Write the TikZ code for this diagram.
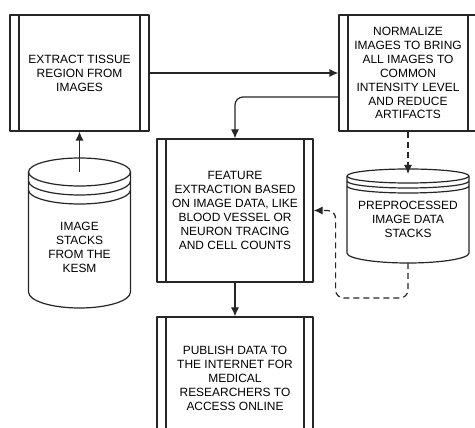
\documentclass[tikz,border=0pt]{standalone}
\usepackage{fontspec}
\setmainfont{Liberation Sans}
\usetikzlibrary{arrows.meta}
\tikzset{
  procbox/.style={draw,align=center,inner sep=0pt,fill=white,
    path picture={
      \draw ([xshift=9bp]path picture bounding box.north west) -- ([xshift=9bp]path picture bounding box.south west);
      \draw ([xshift=-9bp]path picture bounding box.north east) -- ([xshift=-9bp]path picture bounding box.south east);
    }},
  stacktext/.style={align=center,inner sep=0pt},
  dashline/.style={dash pattern=on 6bp off 4bp},
}

\begin{document}
\begin{tikzpicture}[>={Latex[length=9bp,width=8bp]},line join=bevel,line width=1.2bp,color=black!85,text=black,font=\fontsize{12}{14}\selectfont]
%%
\useasboundingbox (0bp,0bp) rectangle (475bp,428bp);
\fill [white] (0bp,0bp) rectangle (475bp,428bp);
\node (node_0) at (79.5bp,355bp) [procbox,minimum width=139bp,minimum height=116bp] {EXTRACT TISSUE\\REGION FROM\\IMAGES};
  \node (node_1) at (408bp,355bp) [procbox,minimum width=138bp,minimum height=116bp] {NORMALIZE\\IMAGES TO BRING\\ALL IMAGES TO\\COMMON\\INTENSITY LEVEL\\AND REDUCE\\ARTIFACTS};
  \node (node_2) at (235bp,217.5bp) [procbox,minimum width=156bp,minimum height=143bp] {FEATURE\\EXTRACTION BASED\\ON IMAGE DATA, LIKE\\BLOOD VESSEL OR\\NEURON TRACING\\AND CELL COUNTS};
  \node (node_3) at (235bp,49.5bp) [procbox,minimum width=156bp,minimum height=123bp] {PUBLISH DATA TO\\THE INTERNET FOR\\MEDICAL\\RESEARCHERS TO\\ACCESS ONLINE};
% stacks
  \draw (79.5bp,256bp) ellipse [x radius=51bp,y radius=14bp];
  \draw (28.5bp,256bp) -- (28.5bp,136bp) arc [start angle=180,end angle=360,x radius=51bp,y radius=16bp] -- (130.5bp,256bp);
  \draw (28.5bp,247bp) arc [start angle=180,end angle=360,x radius=51bp,y radius=14bp];
  \draw (28.5bp,238bp) arc [start angle=180,end angle=360,x radius=51bp,y radius=14bp];
  \draw (408bp,252bp) ellipse [x radius=61bp,y radius=7bp];
  \draw (347bp,252bp) -- (347bp,175bp) arc [start angle=180,end angle=360,x radius=61bp,y radius=10bp] -- (469bp,252bp);
  \draw (347bp,247bp) arc [start angle=180,end angle=360,x radius=61bp,y radius=7bp];
  \draw (347bp,242bp) arc [start angle=180,end angle=360,x radius=61bp,y radius=7bp];
  \node (node_4) at (79.5bp,181bp) [stacktext] {IMAGE\\STACKS\\FROM THE\\KESM};
  \node (node_5) at (408bp,208.5bp) [stacktext] {PREPROCESSED\\IMAGE DATA\\STACKS};
  \coordinate (node_4_top) at (79.5bp,256bp);
  \coordinate (node_5_top) at (408bp,254bp);
  \coordinate (node_5_bot) at (408bp,165bp);
% connectors
  \draw [->] (node_0) -- (node_1);
  \draw [->,rounded corners=8bp] ([yshift=-24bp]node_1.west) -| (node_2.north);
  \draw [->] (node_4_top) -- (node_0.south);
  \draw [->,dashline] (node_1.south) -- (node_5_top);
  \draw [->,dashline,rounded corners=8bp] (node_5_bot) -- ++(0bp,-35bp) -| ([xshift=22bp]node_2.east) -- (node_2.east);
  \draw [->] (node_2.south) -- (node_3.north);
%
\end{tikzpicture}
\end{document}
